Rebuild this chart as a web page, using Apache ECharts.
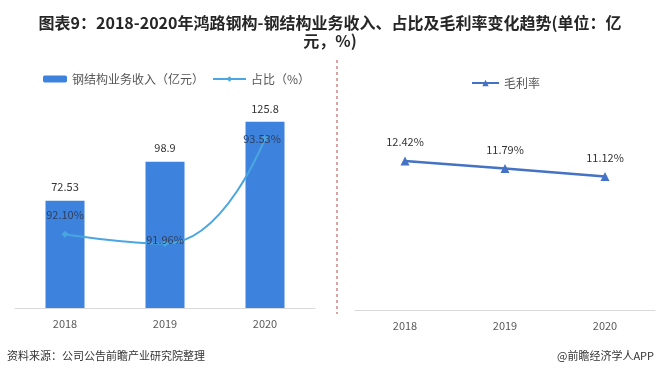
<!DOCTYPE html>
<html>
<head>
<meta charset="utf-8">
<script src="https://cdn.jsdelivr.net/npm/echarts@6/dist/echarts.min.js"></script>
<style>
  html, body { margin: 0; padding: 0; background: #fff; }
  #chart { width: 660px; height: 378px; }
</style>
</head>
<body>
<div id="chart"></div>
<script>
// data
const years = ["2018", "2019", "2020"];
const revenue = [72.53, 98.9, 125.8];          // 钢结构业务收入（亿元）
const share = [92.10, 91.96, 93.53];           // 占比（%）
const margin = [12.42, 11.79, 11.12];          // 毛利率（%）

const font = "'Noto Sans CJK SC', 'Noto Sans', sans-serif";
const axisLabelStyle = { color: "#595959", fontSize: 11, fontFamily: font, margin: 10 };

const chart = echarts.init(document.getElementById("chart"));
chart.setOption({
  backgroundColor: "#fff",
  animation: false,
  title: {
    text: "图表9：2018-2020年鸿路钢构-钢结构业务收入、占比及毛利率变化趋势(单位：亿\n元，%)",
    left: "center",
    top: 9,
    textStyle: { fontSize: 16, fontWeight: "bold", color: "#262626", fontFamily: font, lineHeight: 18 }
  },
  legend: [
    {
      data: ["钢结构业务收入（亿元）"],
      left: 38, top: 68,
      itemWidth: 24, itemHeight: 7,
      textStyle: { color: "#555", fontSize: 12, fontFamily: font }
    },
    {
      data: ["占比（%）"],
      left: 207, top: 68,
      itemWidth: 33, itemHeight: 7,
      textStyle: { color: "#555", fontSize: 12, fontFamily: font }
    },
    {
      data: ["毛利率"],
      left: 466, top: 72,
      itemWidth: 27, itemHeight: 8,
      itemGap: 2,
      textStyle: { color: "#555", fontSize: 12, fontFamily: font }
    }
  ],
  grid: [
    { left: 15, right: 345, top: 86, bottom: 70 },
    { left: 355, right: 5, top: 70, bottom: 68 }
  ],
  xAxis: [
    {
      gridIndex: 0, type: "category", data: years,
      axisLine: { lineStyle: { color: "#d9d9d9" } },
      axisTick: { show: false },
      axisLabel: axisLabelStyle
    },
    {
      gridIndex: 1, type: "category", data: years,
      axisLine: { lineStyle: { color: "#d9d9d9" } },
      axisTick: { show: false },
      axisLabel: axisLabelStyle
    }
  ],
  yAxis: [
    { gridIndex: 0, min: 0, max: 150, show: false },
    { gridIndex: 0, min: 91, max: 94.31, show: false },
    { gridIndex: 1, min: 0, max: 20, show: false }
  ],
  series: [
    {
      name: "钢结构业务收入（亿元）",
      type: "bar",
      xAxisIndex: 0, yAxisIndex: 0,
      data: revenue,
      barWidth: 39,
      itemStyle: { color: "#3d82dc" },
      label: {
        show: true, position: "top", distance: 8,
        color: "#333", fontSize: 11, fontFamily: font
      }
    },
    {
      name: "占比（%）",
      type: "line",
      xAxisIndex: 0, yAxisIndex: 1,
      data: share.map((v, i) => ({
        value: v,
        label: i === 0 ? { position: "top", distance: 10 }
             : i === 1 ? { position: "inside", offset: [0, -4] }
             : { position: "inside", offset: [-3, 0] }
      })),
      smooth: 0.5,
      symbol: "diamond",
      symbolSize: 7,
      lineStyle: { color: "#4aa6e0", width: 2 },
      itemStyle: { color: "#4aa6e0" },
      z: 5,
      label: {
        show: true,
        formatter: p => p.value.toFixed(2) + "%",
        color: "#2f3f5c", fontSize: 11, fontFamily: font
      }
    },
    {
      name: "毛利率",
      type: "line",
      xAxisIndex: 1, yAxisIndex: 2,
      data: margin,
      symbol: "triangle",
      symbolSize: 9,
      lineStyle: { color: "#4472c4", width: 2.5 },
      itemStyle: { color: "#4472c4" },
      label: {
        show: true, position: "top", distance: 9,
        formatter: p => p.value.toFixed(2) + "%",
        color: "#333", fontSize: 11, fontFamily: font
      }
    }
  ],
  graphic: [
    {
      type: "line",
      shape: { x1: 337, y1: 60, x2: 337, y2: 314 },
      style: { stroke: "#b5484a", lineWidth: 1, lineDash: [3, 3] }
    },
    {
      type: "text", left: 7, top: 350,
      style: { text: "资料来源：公司公告前瞻产业研究院整理", fill: "#333", fontSize: 11, fontFamily: font }
    },
    {
      type: "text", right: 6, top: 350,
      style: { text: "@前瞻经济学人APP", fill: "#333", fontSize: 11, fontFamily: font }
    }
  ]
});
</script>
</body>
</html>
